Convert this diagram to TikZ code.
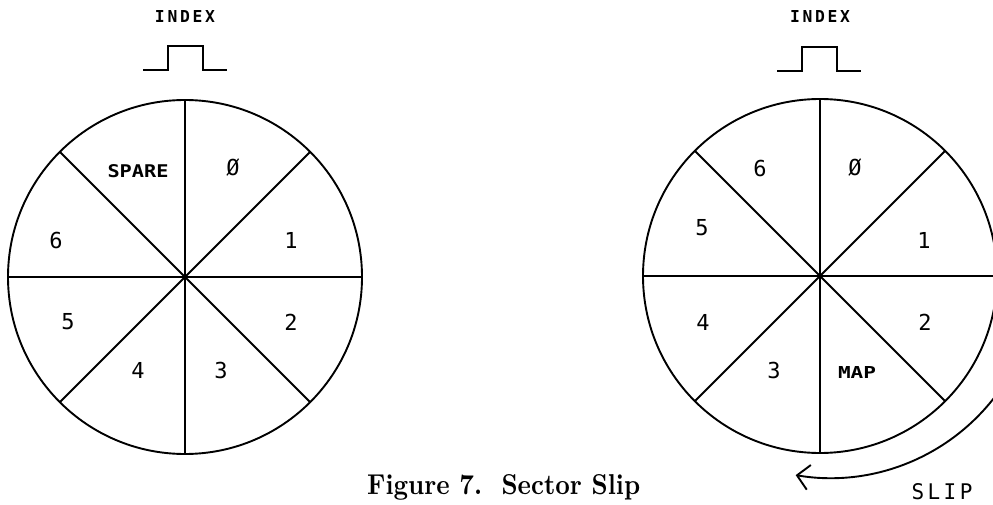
\documentclass[tikz,border=0pt]{standalone}
\usepackage{fontspec}
\usetikzlibrary{arrows.meta}
\newfontfamily\plotfont{DejaVu Sans Mono}
\newcommand{\fitbox}[3]{\resizebox{#1}{#2}{#3}}
\begin{document}
\begin{tikzpicture}[x=1pt,y=1pt,
  wheel/.style={draw, circle, minimum size=354pt, inner sep=0pt, outer sep=0pt, line width=1.9pt},
  spoke/.style={line width=1.9pt},
  digit/.style={font=\plotfont\fontsize{22}{24}\selectfont, inner sep=0pt},
  word/.style={inner sep=0pt},
  pulse/.style={line width=1.9pt},
  sliparrow/.style={line width=1.9pt, -{Straight Barb[length=12pt, width=25pt, line width=1.9pt]}}
]
\fill[white] (0,0) rectangle (993,504);
\useasboundingbox (0,0) rectangle (993,504);
\clip (0,0) rectangle (993,504);

% ---------------- left wheel ----------------
\node[wheel] (L) at (185,227) {};
\foreach \a in {0,45,...,315} \draw[spoke] (L.center) -- (L.\a);
\node[word] (Lspare) at (138,333) {\fitbox{61pt}{13pt}{\plotfont\bfseries SPARE}};
\node[digit] (L0) at (233,336) {Ø};
\node[digit] (L1) at (291,264) {1};
\node[digit] (L6) at (56,264) {6};
\node[digit] (L5) at (68,182) {5};
\node[digit] (L2) at (291,182) {2};
\node[digit] (L4) at (138,134) {4};
\node[digit] (L3) at (221,134) {3};

\node[word] (Lindex) at (185,487) {\fitbox{60pt}{12pt}{\plotfont\bfseries I\,N\,D\,E\,X}};
\draw[pulse] (143,434) -- (168,434) -- (168,458) -- (203,458) -- (203,434) -- (227,434);

% ---------------- right wheel ----------------
\node[wheel] (R) at (820,228) {};
\foreach \a in {0,45,...,315} \draw[spoke] (R.center) -- (R.\a);
\node[digit] (R6) at (760,336) {6};
\node[digit] (R0) at (855,336) {Ø};
\node[digit] (R5) at (702,276) {5};
\node[digit] (R1) at (924,264) {1};
\node[digit] (R4) at (703,182) {4};
\node[digit] (R2) at (925,182) {2};
\node[digit] (R3) at (774,134) {3};
\node[word] (Rmap) at (857,132) {\fitbox{38pt}{12pt}{\plotfont\bfseries MAP}};

\node[word] (Rindex) at (820,487) {\fitbox{60pt}{12pt}{\plotfont\bfseries I\,N\,D\,E\,X}};
\draw[pulse] (777,433) -- (802,433) -- (802,457) -- (837,457) -- (837,433) -- (861,433);

% slip arrow
\draw[sliparrow] (830,234) ++(-30:208) arc[start angle=-30, end angle=-99.5, radius=208];
\node[word] (slip) at (942,12) {\fitbox{61pt}{16pt}{\plotfont S\,L\,I\,P}};

% caption
\node[word, anchor=base west] (cap) at (367,10) {\resizebox{273pt}{20pt}{\bfseries Figure 7.\ \ Sector Slip}};
\end{tikzpicture}
\end{document}
